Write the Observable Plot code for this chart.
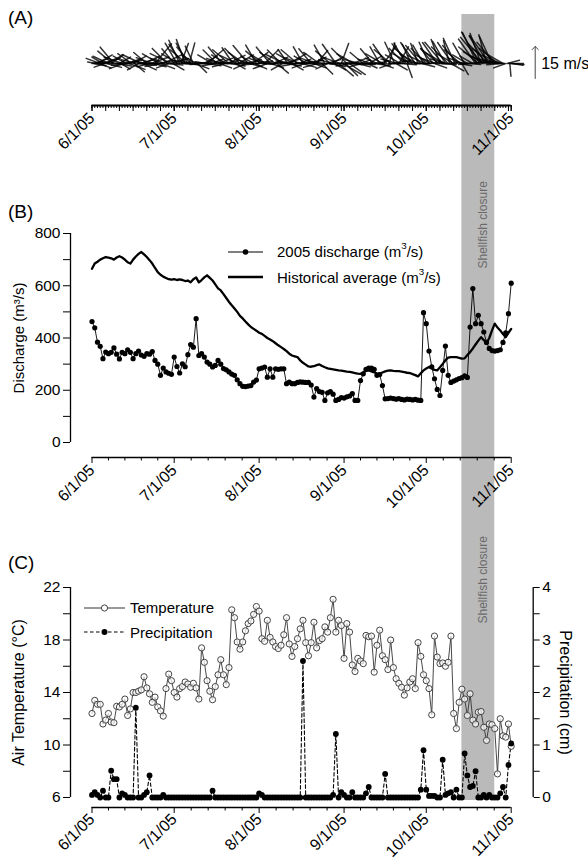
<!DOCTYPE html>
<html><head><meta charset="utf-8">
<script src="https://cdn.jsdelivr.net/npm/d3@7"></script>
<script src="https://cdn.jsdelivr.net/npm/@observablehq/plot@0.6"></script>
<style>
body{margin:0;background:#fff;font-family:"Liberation Sans",Arial,sans-serif;}
#fig{position:relative;width:588px;height:860px;overflow:hidden;background:#fff;}
.panel{position:absolute;left:0;}
.plabel{position:absolute;left:8px;font-size:19px;line-height:1;}
.lg{position:absolute;display:flex;align-items:center;height:18px;font-size:15px;white-space:nowrap;}
.lg svg{display:block;}
.lg sup{font-size:0.65em;position:relative;top:-0.2em;vertical-align:top;line-height:1;}
</style></head><body><div id="fig"></div>
<script>
// ---------- data ----------
const startDate = "2005-06-01";
const endDate = "2005-11-01";
const monthTicks = ["2005-06-01","2005-07-01","2005-08-01","2005-09-01","2005-10-01","2005-11-01"];
const closure = {start: "2005-10-14", end: "2005-10-26", mid: "2005-10-20", label: "Shellfish closure"};

// daily series from 6/1/05
const discharge2005 = [463,439,384,368,321,346,340,345,362,338,
 320,345,340,355,345,321,340,350,335,330,
 340,338,348,314,300,257,285,270,265,261,
 327,291,266,301,290,336,375,365,474,333,
 340,327,308,300,289,295,314,300,283,278,
 270,262,257,240,225,215,214,216,218,231,
 239,282,285,289,250,282,250,282,280,282,
 282,225,231,225,225,230,232,231,230,230,
 220,174,206,195,192,161,190,195,185,161,
 165,172,170,175,178,187,161,161,237,263,
 280,285,285,280,257,260,218,167,168,170,
 168,166,168,165,163,166,165,163,165,162,
 161,497,455,350,290,244,203,180,276,369,
 257,230,235,240,245,248,255,249,442,589,
 455,487,455,423,383,360,352,350,352,355,
 383,420,493,610];
const historicalAvg = [665,685,692,700,705,710,708,705,700,708,
 713,708,700,690,685,700,712,722,729,720,
 710,698,685,668,652,642,635,630,625,623,
 625,622,624,622,618,620,613,625,632,613,
 622,632,640,630,620,605,590,582,568,553,
 538,525,513,500,485,475,463,452,442,435,
 428,420,416,408,400,394,388,380,372,365,
 358,350,340,333,330,327,314,305,298,291,
 290,292,296,299,293,288,284,282,280,278,
 276,275,273,271,270,268,266,264,263,268,
 274,276,272,268,265,263,268,272,275,276,
 274,273,273,271,269,267,266,262,258,253,
 265,276,283,289,283,278,276,288,301,315,
 325,327,327,327,324,321,322,335,346,360,
 375,390,403,392,380,400,429,455,440,429,
 415,403,420,435];
const airTemp = [12.4,13.4,13.1,13.1,11.6,11.9,12.4,11.75,11.7,12.95,
 12.9,13.1,13.5,12.25,12.75,14.0,14.0,14.1,14.2,15.2,
 14.35,13.9,13.25,13.65,12.9,12.6,12.2,14.3,15.4,14.9,
 14.0,13.65,14.3,14.45,14.8,14.65,14.4,14.7,14.35,13.5,
 17.4,16.3,14.9,14.1,13.45,14.45,15.35,16.5,15.35,14.6,
 15.9,20.3,19.7,17.85,17.3,17.85,18.7,19.25,19.45,19.95,
 20.55,20.2,18.1,17.9,19.5,18.2,17.85,17.5,17.35,17.6,
 18.4,19.7,17.7,16.75,17.5,18.1,18.85,19.5,17.8,16.8,
 17.8,19.35,17.4,17.95,18.1,19.0,18.6,19.7,21.1,18.6,
 19.5,19.1,16.6,19.25,18.6,16.1,15.6,16.6,16.4,16.2,
 18.35,18.25,18.3,15.55,17.6,18.75,16.8,16.5,15.75,18.0,
 15.9,15.05,14.7,14.4,13.8,14.35,14.8,15.05,14.3,17.8,
 16.75,15.35,14.9,14.3,12.3,18.3,16.7,16.2,16.25,16.0,
 16.3,18.3,12.4,11.25,13.25,14.25,13.5,12.25,13.9,11.9,
 11.6,12.5,12.55,11.35,10.35,11.6,11.55,11.25,7.8,12.0,
 10.7,10.6,11.6,9.9];
const precipitation = [0.05,0.1,0.05,0,0.13,0,0,0.51,0.35,0.35,
 0,0.08,0.05,0,0,0,1.71,0,0,0.05,
 0.1,0.42,0,0,0,0,0.05,0,0,0,
 0,0,0,0,0,0,0,0,0,0,
 0,0,0,0,0.13,0,0,0,0,0,
 0,0,0,0,0,0,0,0,0,0,
 0,0.08,0.05,0,0,0,0,0,0,0,
 0,0,0,0,0,0,0,2.6,0,0,
 0,0,0,0,0,0,0,0,0.05,1.21,
 0,0.1,0.05,0,0,0.1,0,0,0,0,
 0.08,0.2,0,0,0,0,0,0.45,0,0,
 0,0,0,0,0,0,0,0,0,0,
 0.15,0.9,0.15,0.03,0.03,0.03,0,0,0.72,0.05,
 0.08,0.1,0,0.15,0,0,0.84,0.42,0.2,0.22,
 0.5,0,0,0.05,0,0.05,0,0,0,0.08,
 0.2,0,0.62,1.03];

// wind sticks every 12 h from 6/1/05: direction toward (deg, clockwise from N) and speed (m/s)
const windDir = [80,100,70,280,60,110,290,75,300,250,65,105,295,270,55,310,320,85,
 100,275,60,120,290,250,80,300,70,110,265,305,60,130,285,95,240,75,295,115,65,280,310,90,255,70,290,105,40,270,
 80,300,110,260,65,290,95,315,250,75,295,120,
 320,85,330,300,335,20,325,95,340,310,330,15,320,280,335,110,300,135,270,80,
 95,265,60,280,50,100,275,70,
 300,90,260,315,70,110,290,320,80,255, 300,65,310,100,275,325,85,120,295,60, 315,270,90,305,245,75,320,105,285,55, 300,115,330,80,265,310,95,290,45,300, 250,85,320,110,280,65,305,130,270,90, 315,240,75,295,100,325,60,280,120,300, 85,260,310,70,290,105,330,250,80,300,
 95,270,320,65,110,290,40,255,305,90, 135,280,330,75,245,100,310,60,285,120,
 325,85,130,290,20,120,270,135,315,95,125,260,70,300,
 90,270,105,285,70,255,310,95,275,115, 60,290,85,320,265,100,295,75,330,110,
 300,35,270,325,90,15,310,250,80,335,120,285,30,300,95,270,
 315,330,160,320,300,335,310,90,325,300,340,280, 320,105,330,295,315,85,335,300,270,320,110,290,
 325,310,340,95,320,300,330,285,315,345,120,325, 300,335,270,320,100,310,150,290,330,85,300,275,
 95,265,300,80,
 325,335,310,330,340,320,300,330,345,315, 325,290,335,305,320,285,310,275,295,265,
 300,280,250,75,90,175,95,100];
const windSpeed = [5,6,7,4,8,6,7,9,6,5,8,7,8,6,7,9,10,6,
 7,8,6,5,9,7,8,7,6,8, 9,8,7,6,7,9,6,8,10,7, 8,6,8,7,6,9,8,6,12,7,
 8,9,7,8,9,7,8,10,6,9,11,6,
 9,8,11,9,12,10,11,7,12,10,11,10,10,8,9,7,8,6,8,6,
 5,6,7,5,10,6,7,6,
 8,7,6,9,8,6,7,10,7,6, 8,9,10,7,8,9,6,5,9,8, 10,7,8,9,6,7,11,6,8,9, 7,6,10,7,8,9,6,7,9,8, 7,8,10,6,8,7,9,7,6,8, 9,6,8,10,7,8,9,7,6,9, 7,8,10,6,8,7,9,6,8,7,
 7,8,9,7,6,8,8,7,9,6, 7,8,10,7,6,8,9,6,7,6,
 11,7,9,8,10,10,7,8,10,6,9,7,8,9,
 6,5,6,7,5,6,8,5,6,5, 7,6,5,9,6,7,6,5,9,6,
 9,10,7,11,6,10,10,6,8,11,6,8,9,8,7,6,
 10,11,7,12,9,10,11,7,12,9,10,8, 11,6,10,9,10,7,11,8,8,9,6,8,
 12,11,12,7,13,10,12,8,11,11,7,12, 9,13,8,11,6,10,6,8,11,6,8,7,
 5,6,7,5,
 14,16,12,17,15,16,11,15,14,13, 16,10,14,12,13,9,11,8,9,7,
 8,7,6,6,7,6,6,5];
const scaleArrow = [15]; // m/s

// ---------- helpers ----------
const utc = s => new Date(s + "T00:00:00Z");
const DAY = 864e5;
const t0 = utc(startDate), t1 = utc(endDate);
const dayDate = i => new Date(t0.getTime() + i * DAY);
const fmt = d => `${d.getUTCMonth() + 1}/${d.getUTCDate()}/05`;
const monthDates = monthTicks.map(utc);
const minorTicks = [];
for (let m = 0; m < monthDates.length - 1; m++) {
  const a = monthDates[m].getTime(), b = monthDates[m + 1].getTime();
  for (let k = 1; k < 5; k++) minorTicks.push(new Date(a + (b - a) * k / 5));
}
const dailyTicks = d3.utcDay.range(t0, new Date(t1.getTime() + 1));
const fiveDayTicks = dailyTicks.filter(d => [1, 6, 11, 16, 21, 26, 31].includes(d.getUTCDate()));

const disRows = discharge2005.map((v, i) => ({date: dayDate(i), v}));
const histRows = historicalAvg.map((v, i) => ({date: dayDate(i), v}));
const tempRows = airTemp.map((v, i) => ({date: dayDate(i), v}));
const precRows = precipitation.map((v, i) => ({date: dayDate(i), v}));
const windRows = windDir.map((dir, i) => ({t: new Date(t0.getTime() + i * DAY / 2), dir, s: windSpeed[i]}));
const band = [{x1: utc(closure.start), x2: utc(closure.end)}];
const bandMid = utc(closure.mid);

const BAND = "#bababa";
const W = 588, ML = 91.5, MR = 77.3;
const FONT = '"Liberation Sans", Arial, Helvetica, sans-serif';
const baseStyle = {fontFamily: FONT, fontSize: "15px", color: "#000", background: "transparent", overflow: "visible"};
const xScale = {type: "utc", domain: [t0, t1]};
const stick = {draw(context, l) { context.moveTo(0, 0); context.lineTo(0, -l); }};
const precToT = p => 6 + 4 * p;

// ---------- panel A ----------
const plotA = Plot.plot({
  width: W, height: 175, marginLeft: ML, marginRight: MR, marginTop: 21, marginBottom: 70,
  x: xScale, y: {domain: [-20, 20], axis: null},
  length: {domain: [0, 15], range: [0, 32]},
  style: baseStyle,
  marks: [
    Plot.rect(band, {x1: "x1", x2: "x2", fill: BAND, insetTop: -7, insetBottom: -70}),
    Plot.vector(windRows, {x: "t", y: () => 0, length: "s", rotate: "dir", anchor: "start", shape: stick,
      stroke: "#000", strokeWidth: 1.5, strokeOpacity: 0.8, strokeLinecap: "round"}),
    Plot.vector(scaleArrow, {y: () => 0, length: d => d, rotate: 0, anchor: "start", frameAnchor: "right",
      dx: 24, dy: 15, r: 1.7, stroke: "#444", strokeWidth: 1}),
    Plot.text(scaleArrow, {y: () => 0, text: d => `${d} m/s`, frameAnchor: "right", dx: 30, textAnchor: "start", fontSize: 16}),
    Plot.ruleY([-20], {strokeWidth: 1.8}),
    Plot.axisX({ticks: dailyTicks, tickSize: 3, tickFormat: () => "", label: null}),
    Plot.axisX({ticks: fiveDayTicks, tickSize: 6, tickFormat: () => "", label: null}),
    Plot.axisX({ticks: monthDates, tickSize: 6, tickPadding: 4, tickRotate: -45, tickFormat: fmt, fontSize: 16, label: null})
  ]
});

// ---------- panel B ----------
const plotB = Plot.plot({
  width: W, height: 350, marginLeft: ML, marginRight: MR, marginTop: 58, marginBottom: 83,
  x: xScale, y: {domain: [0, 800]},
  style: baseStyle,
  marks: [
    Plot.rect(band, {x1: "x1", x2: "x2", fill: BAND, insetTop: -58, insetBottom: -83}),
    Plot.text([closure.label], {x: () => bandMid, frameAnchor: "top", dy: 35, rotate: -90, textAnchor: "start", fill: "#6a6a6a", fontSize: 12}),
    Plot.line(histRows, {x: "date", y: "v", strokeWidth: 2.3}),
    Plot.line(disRows, {x: "date", y: "v", strokeWidth: 0.9}),
    Plot.dot(disRows, {x: "date", y: "v", r: 2.6, fill: "#000"}),
    Plot.ruleX([t0], {dx: -21.5, strokeWidth: 1.3}),
    Plot.axisY({ticks: d3.range(0, 801, 100), tickFormat: d => d % 200 ? "" : d, tickSize: 7, tickPadding: 3, dx: -21.5, label: null, fontSize: 15.5}),
    Plot.text(["Discharge (m³/s)"], {frameAnchor: "left", textAnchor: "middle", dx: -73, rotate: -90, fontSize: 15}),
    Plot.ruleY([0], {dy: 15, strokeWidth: 1.3}),
    Plot.axisX({ticks: minorTicks, tickSize: 3.5, dy: 15, tickFormat: () => "", label: null}),
    Plot.axisX({ticks: monthDates, tickSize: 6, tickPadding: 4, dy: 15, tickRotate: -45, tickFormat: fmt, fontSize: 16, label: null})
  ]
});

// ---------- panel C ----------
const plotC = Plot.plot({
  width: W, height: 335, marginLeft: ML, marginRight: MR, marginTop: 62, marginBottom: 63,
  x: xScale, y: {domain: [6, 22]},
  style: baseStyle,
  marks: [
    Plot.rect(band, {x1: "x1", x2: "x2", fill: BAND, insetTop: -62, insetBottom: -3}),
    Plot.text([closure.label], {x: () => bandMid, frameAnchor: "top", dy: 36, rotate: -90, textAnchor: "start", fill: "#6a6a6a", fontSize: 12}),
    Plot.line(tempRows, {x: "date", y: "v", stroke: "#333", strokeWidth: 0.9}),
    Plot.line(precRows, {x: "date", y: d => precToT(d.v), strokeDasharray: "3.5,2.5", strokeWidth: 1.1}),
    Plot.dot(tempRows, {x: "date", y: "v", r: 3.1, fill: "white", fillOpacity: 0.7, stroke: "#444", strokeWidth: 1}),
    Plot.dot(precRows, {x: "date", y: d => precToT(d.v), r: 2.9, fill: "#000"}),
    Plot.ruleX([t0], {dx: -21.5, strokeWidth: 1.3}),
    Plot.axisY({ticks: d3.range(6, 22.01, 2), tickFormat: d => (d - 6) % 4 ? "" : d, tickSize: 7, tickPadding: 3, dx: -21.5, label: null, fontSize: 15.5}),
    Plot.text(["Air Temperature (°C)"], {frameAnchor: "left", textAnchor: "middle", dx: -73, rotate: -90, fontSize: 16}),
    Plot.ruleX([t1], {dx: 22, strokeWidth: 1.3}),
    Plot.axisY({anchor: "right", ticks: d3.range(6, 22.01, 2), tickFormat: d => { const p = (d - 6) / 4; return Number.isInteger(p) ? p : ""; },
      tickSize: 6, tickPadding: 3, dx: 22, label: null, fontSize: 15.5}),
    Plot.text(["Precipitation (cm)"], {frameAnchor: "right", textAnchor: "middle", dx: 54, rotate: 90, fontSize: 16}),
    Plot.ruleY([6], {dy: 10, strokeWidth: 1.3}),
    Plot.axisX({ticks: minorTicks, tickSize: 3.5, dy: 10, tickFormat: () => "", label: null}),
    Plot.axisX({ticks: monthDates, tickSize: 6, tickPadding: 3, dy: 10, tickRotate: -45, tickFormat: fmt, fontSize: 16, label: null})
  ]
});

// ---------- assemble ----------
const fig = document.getElementById("fig");
function place(node, top) {
  const d = document.createElement("div");
  d.className = "panel"; d.style.top = top + "px";
  d.appendChild(node); fig.appendChild(d);
}
place(plotA, 0); place(plotB, 175); place(plotC, 525);

function label(text, top) {
  const d = document.createElement("div");
  d.className = "plabel"; d.style.top = top + "px"; d.textContent = text; fig.appendChild(d);
}
label("(A)", 8); label("(B)", 202); label("(C)", 553);

function legendRow(left, centerY, swatchW, gap, swatchSvg, html) {
  const d = document.createElement("div");
  d.className = "lg"; d.style.left = left + "px"; d.style.top = (centerY - 9) + "px"; d.style.gap = gap + "px";
  d.innerHTML = `<svg width="${swatchW}" height="14" viewBox="0 0 ${swatchW} 14">${swatchSvg}</svg><span>${html}</span>`;
  fig.appendChild(d);
}
legendRow(228, 251.5, 35, 14,
  `<line x1="0" x2="35" y1="7" y2="7" stroke="#000" stroke-width="1"/><circle cx="17.5" cy="7" r="2.8" fill="#000"/>`,
  `2005 discharge (m<sup>3</sup>/s)`);
legendRow(228, 277, 35, 14,
  `<line x1="0" x2="35" y1="7" y2="7" stroke="#000" stroke-width="2.4"/>`,
  `Historical average (m<sup>3</sup>/s)`);
legendRow(84, 607.5, 41, 5,
  `<line x1="0" x2="41" y1="7" y2="7" stroke="#333" stroke-width="1"/><circle cx="20.5" cy="7" r="3.1" fill="#fff" stroke="#444" stroke-width="1"/>`,
  `Temperature`);
legendRow(84, 632, 41, 5,
  `<line x1="0" x2="41" y1="7" y2="7" stroke="#000" stroke-width="1.1" stroke-dasharray="3.5,2.5"/><circle cx="20.5" cy="7" r="3" fill="#000"/>`,
  `Precipitation`);
</script></body></html>
